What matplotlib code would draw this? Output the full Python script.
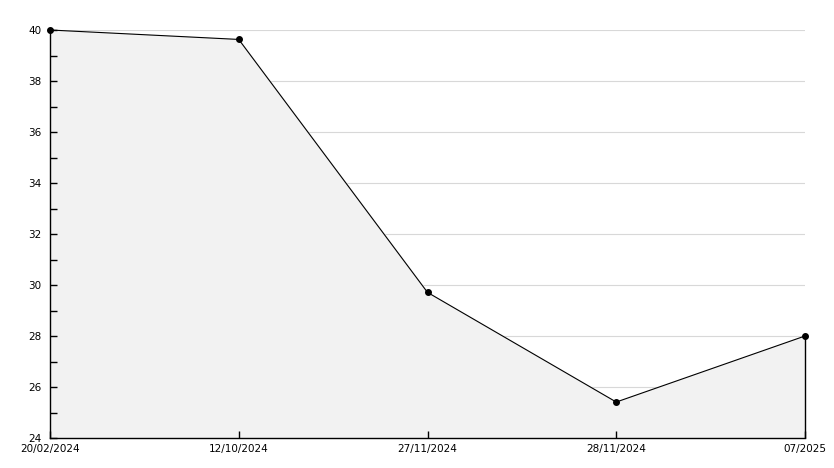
import matplotlib.pyplot as plt
from matplotlib.ticker import MultipleLocator
from matplotlib.transforms import ScaledTranslation

# Values
dates = ['20/02/2024', '12/10/2024', '27/11/2024', '28/11/2024', '07/2025']
values = [40.0, 39.63, 29.71, 25.41, 28.0]
y_grid = [26, 28, 30, 32, 34, 36, 38, 40]

fig = plt.figure(figsize=(8.34, 4.68), dpi=100)
ax = fig.add_axes([50 / 834, 30 / 468, 755 / 834, 408 / 468])

x = list(range(len(dates)))
# grid sits under the grey fill
for g in y_grid:
    ax.axhline(g, color='#d8d8d8', linewidth=0.8, zorder=0.5)
ax.fill_between(x, values, 24, color='#f2f2f2', zorder=1)
ax.plot(x, values, color='black', linewidth=0.8, marker='o', markersize=4,
        zorder=4, clip_on=False)
ax.vlines(x[-1], 24, values[-1], color='black', linewidth=1.0, zorder=4, clip_on=False)

ax.set_xlim(0, len(dates) - 1)
ax.set_ylim(24, 40)
ax.set_xticks(x)
ax.set_xticklabels(dates)
ax.yaxis.set_major_locator(MultipleLocator(2))
ax.yaxis.set_minor_locator(MultipleLocator(1))

for side in ['top', 'right']:
    ax.spines[side].set_visible(False)
for side in ['left', 'bottom']:
    ax.spines[side].set_linewidth(1.0)
    ax.spines[side].set_zorder(5)

ax.tick_params(axis='y', which='major', direction='in', length=5, width=1,
               labelsize=7.5, pad=6)
ax.tick_params(axis='y', which='minor', direction='in', length=5, width=1)
ax.tick_params(axis='x', direction='in', length=5, width=1, labelsize=7.5, pad=4)

# nudge the bottom y label up so it clears the first date
fig.canvas.draw()
lab = ax.get_yticklabels()[0]
lab.set_transform(lab.get_transform() + ScaledTranslation(0, 3 / 100, fig.dpi_scale_trans))

plt.savefig('out.png', dpi=100)
plt.close()
